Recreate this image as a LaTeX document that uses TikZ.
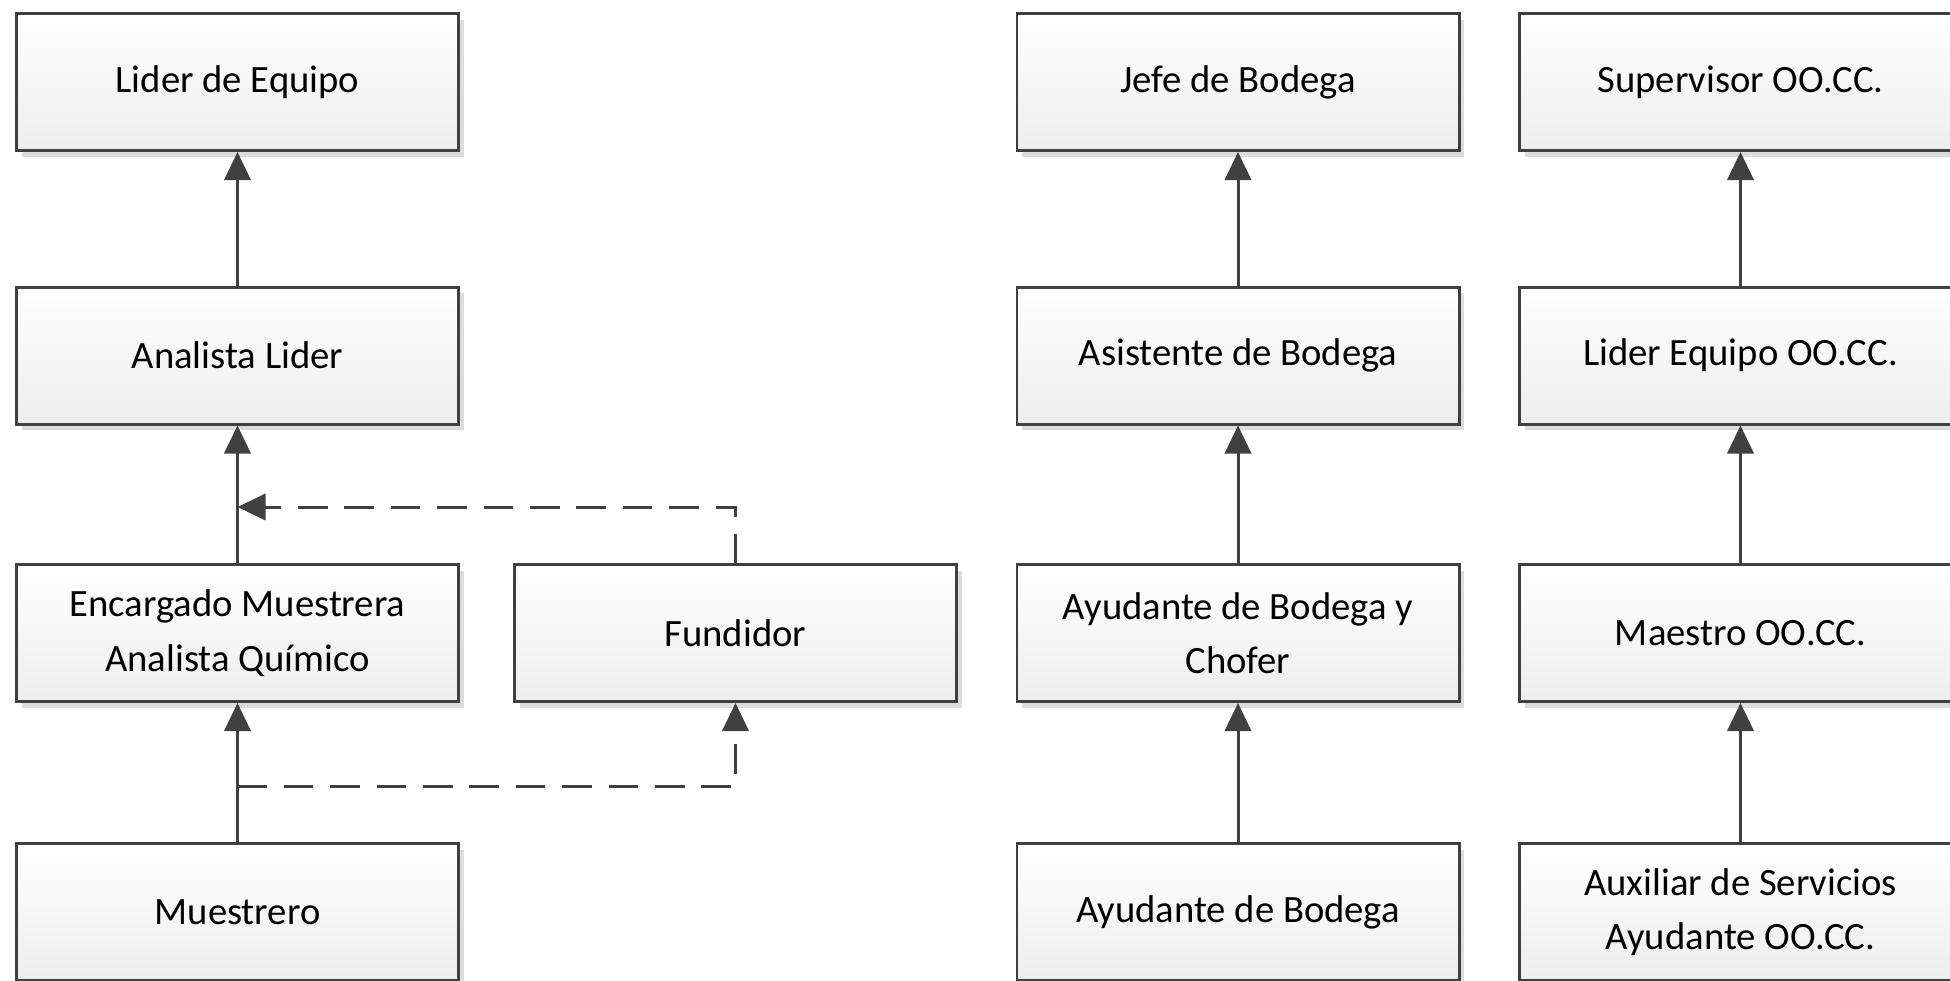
\documentclass[tikz,border=0pt]{standalone}
\usepackage{fontspec}
\setmainfont{Carlito}
\usetikzlibrary{arrows.meta,shadows}
\definecolor{borde}{HTML}{404040}
\definecolor{sombra}{HTML}{DCDCDC}

\begin{document}
\begin{tikzpicture}[
	puesto/.style={draw=borde, line width=0.85pt, rectangle, top color=white, bottom color=black!7, minimum width=4.42cm, minimum height=1.37cm, inner sep=0pt, align=center, font=\fontsize{11pt}{15.5pt}\selectfont, drop shadow={shadow xshift=0.05cm, shadow yshift=-0.06cm, fill=sombra, opacity=1}},
	linea/.style={draw=borde, line width=0.85pt},
	punteada/.style={linea, dash pattern=on 8.4pt off 4.8pt}
]
				\useasboundingbox (0, 0) rectangle (19.5, -9.8);
				\node[puesto] (LE)at(2.375, -0.82) {Lider de Equipo};
				\node[puesto] (AL)at(2.375, -3.555) {Analista Lider};
				\node[puesto] (EM)at(2.375, -6.33) {Encargado Muestrera\\Analista Químico};
				\node[puesto] (MU)at(2.375, -9.12) {Muestrero};
				\node[puesto] (FU)at(7.355, -6.33) {Fundidor};
				\node[puesto] (JB)at(12.38, -0.82) {Jefe de Bodega};
				\node[puesto] (AB)at(12.38, -3.555) {Asistente de Bodega};
				\node[puesto] (AC)at(12.38, -6.33) {Ayudante de Bodega y\\Chofer};
				\node[puesto] (AY)at(12.38, -9.12) {Ayudante de Bodega};
				\node[puesto] (SO)at(17.405, -0.82) {Supervisor OO.CC.};
				\node[puesto] (LO)at(17.405, -3.555) {Lider Equipo OO.CC.};
				\node[puesto] (MO)at(17.405, -6.33) {Maestro OO.CC.};
				\node[puesto] (AO)at(17.405, -9.12) {Auxiliar de Servicios\\Ayudante OO.CC.};
				\coordinate (P1)at(2.375, -5.07);
				\coordinate (P2)at(2.375, -7.86);
				\draw[->, >={Stealth[length=8pt, width=7.5pt, inset=0pt]}, linea] (AL) -- (LE);
				\draw[->, >={Stealth[length=8pt, width=7.5pt, inset=0pt]}, linea] (EM) -- (AL);
				\draw[->, >={Stealth[length=8pt, width=7.5pt, inset=0pt]}, linea] (MU) -- (EM);
				\draw[->, >={Stealth[length=8pt, width=7.5pt, inset=0pt]}, punteada] (FU) |- (P1);
				\draw[->, >={Stealth[length=8pt, width=7.5pt, inset=0pt]}, punteada] (P2) -| (FU);
				\draw[->, >={Stealth[length=8pt, width=7.5pt, inset=0pt]}, linea] (AB) -- (JB);
				\draw[->, >={Stealth[length=8pt, width=7.5pt, inset=0pt]}, linea] (AC) -- (AB);
				\draw[->, >={Stealth[length=8pt, width=7.5pt, inset=0pt]}, linea] (AY) -- (AC);
				\draw[->, >={Stealth[length=8pt, width=7.5pt, inset=0pt]}, linea] (LO) -- (SO);
				\draw[->, >={Stealth[length=8pt, width=7.5pt, inset=0pt]}, linea] (MO) -- (LO);
				\draw[->, >={Stealth[length=8pt, width=7.5pt, inset=0pt]}, linea] (AO) -- (MO);
			\end{tikzpicture}
\end{document}
